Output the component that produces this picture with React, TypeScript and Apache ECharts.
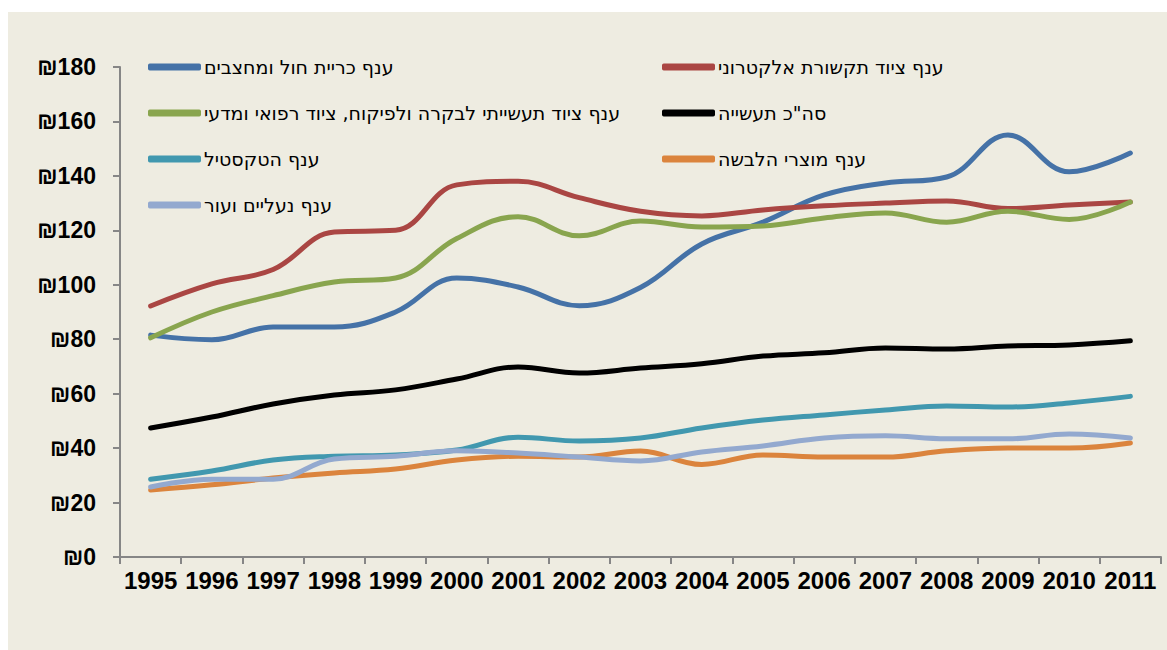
import React, { useEffect, useRef } from "react";
import * as echarts from "echarts";

const years = ["1995","1996","1997","1998","1999","2000","2001","2002","2003","2004","2005","2006","2007","2008","2009","2010","2011"];

const sandQuarry = [81.5, 79.8, 84.5, 84.5, 90, 102.5, 99.2, 92.3, 99, 115, 123, 133, 137.4, 139.6, 155, 141.5, 148.4];
const electronics = [92.2, 100.3, 105.6, 119.4, 120, 136.7, 138, 132, 127, 125.3, 127.5, 129, 130, 130.8, 128, 129.3, 130.4];
const industrialEquip = [80.5, 90, 96, 101, 102.5, 117, 125, 118, 123.4, 121.2, 121.6, 124.5, 126.4, 123, 127, 124, 130.4];
const totalIndustry = [47.4, 51.4, 56.2, 59.5, 61.4, 65.4, 69.8, 67.6, 69.4, 71, 73.8, 75, 76.8, 76.4, 77.5, 77.9, 79.4];
const textile = [28.6, 31.6, 35.6, 37, 37.5, 39.3, 44, 42.6, 43.7, 47.4, 50.3, 52.2, 54, 55.5, 55.1, 56.6, 59];
const apparel = [24.6, 26.5, 29, 30.9, 32.3, 35.6, 37, 36.7, 38.9, 34, 37.5, 36.7, 36.7, 39, 40, 40, 41.9];
const footwear = [25.7, 28.6, 28.6, 36, 37, 39, 38.2, 36.7, 35.3, 38.6, 40.8, 43.7, 44.5, 43.4, 43.4, 45.2, 43.7];

const seriesNames = [
  "ענף כריית חול ומחצבים",
  "ענף ציוד תקשורת אלקטרוני",
  "ענף ציוד תעשייתי לבקרה ולפיקוח, ציוד רפואי ומדעי",
  "סה\"כ תעשייה",
  "ענף הטקסטיל",
  "ענף מוצרי הלבשה",
  "ענף נעליים ועור",
];
const seriesData = [sandQuarry, electronics, industrialEquip, totalIndustry, textile, apparel, footwear];
const colors = ["#4572A7", "#AA4643", "#89A54E", "#000000", "#4198AF", "#DB843D", "#93A9CF"];

export default function App() {
  const ref = useRef<HTMLDivElement>(null);
  useEffect(() => {
    document.body.style.overflow = "hidden";
    const chart = echarts.init(ref.current!, undefined, { renderer: "svg" });
    const font = "'Liberation Sans', Arial, sans-serif";
    const legendCommon = {
      orient: "vertical",
      icon: "roundRect",
      itemWidth: 53,
      itemHeight: 7,
      itemGap: 26,
      padding: 0,
      textStyle: { fontFamily: "'DejaVu Sans', sans-serif", fontSize: 19, color: "#000", lineHeight: 20, padding: [0, 0, 0, -2] },
      top: 45,
    };
    chart.setOption({
      animation: false,
      backgroundColor: "#EEECE1",
      color: colors,
      grid: { left: 112, right: 6, top: 55, bottom: 93, containLabel: false },
      legend: [
        { ...legendCommon, left: 140, data: [seriesNames[0], seriesNames[2], seriesNames[4], seriesNames[6]] },
        { ...legendCommon, left: 654, data: [seriesNames[1], seriesNames[3], seriesNames[5]] },
      ],
      xAxis: {
        type: "category",
        data: years,
        boundaryGap: true,
        axisLine: { lineStyle: { color: "#868686", width: 2 } },
        axisTick: { show: true, length: 7, lineStyle: { color: "#868686", width: 2 } },
        axisLabel: { fontFamily: font, fontSize: 24, fontWeight: "bold", color: "#000", margin: 11, interval: 0 },
      },
      yAxis: {
        type: "value",
        min: 0,
        max: 180,
        interval: 20,
        splitLine: { show: false },
        axisLine: { show: true, lineStyle: { color: "#868686", width: 2 } },
        axisTick: { show: true, length: 7, lineStyle: { color: "#868686", width: 2 } },
        axisLabel: { fontFamily: font, fontSize: 23, fontWeight: "bold", color: "#000", margin: 24, formatter: "₪{value}" },
      },
      series: seriesNames.map((name, i) => ({
        name,
        type: "line",
        data: seriesData[i],
        smooth: 0.4,
        showSymbol: false,
        symbol: "none",
        lineStyle: { width: 5, color: colors[i], cap: "round", join: "round" },
        itemStyle: { color: colors[i] },
      })),
    });
    return () => chart.dispose();
  }, []);
  return (
    <div
      ref={ref}
      style={{ position: "absolute", left: 8, top: 12, width: 1159, height: 638 }}
    />
  );
}
